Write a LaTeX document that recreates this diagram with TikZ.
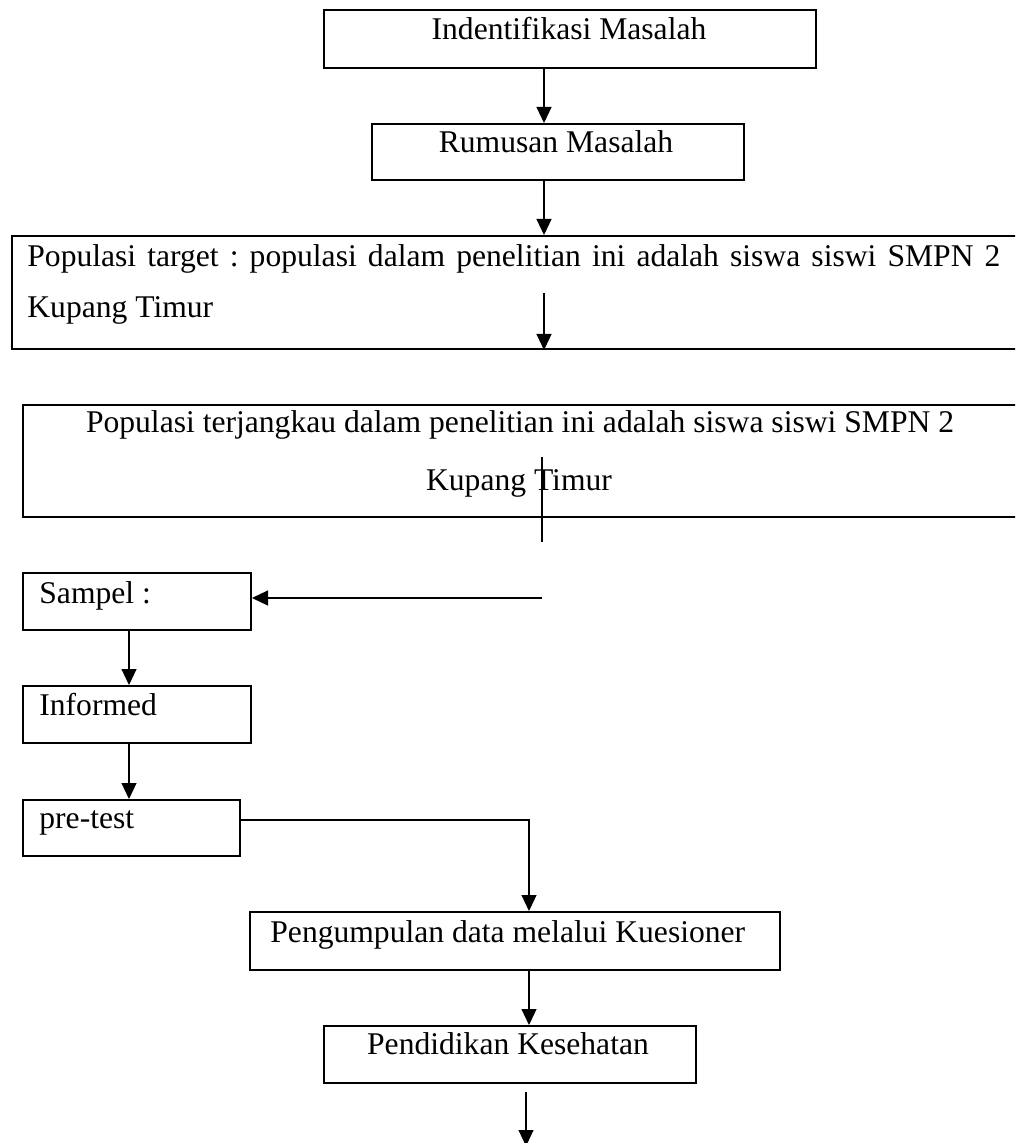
\documentclass[tikz,border=0pt]{standalone}
\usepackage{fontspec}
\setmainfont{Liberation Serif}
\usetikzlibrary{fit,arrows.meta}
\frenchspacing
\begin{document}
\begin{tikzpicture}[x=0.5pt,y=-0.5pt,
  box/.style={draw=black,line width=1pt,inner sep=0pt,rectangle},
  txt/.style={inner sep=0pt,font=\fontsize{15.8pt}{19pt}\selectfont},
  arr/.style={draw=black,line width=0.55pt,-{Triangle[length=8pt,width=7.5pt]}},
  ln/.style={draw=black,line width=0.55pt}]
\clip (0,0) rectangle (1015,1143);
\fill[white] (0,0) rectangle (1015,1143);
% boxes
\node[box,fit={(324,10) (816,68)}] (b1) {};
\node[box,fit={(372,124) (744,180)}] (b2) {};
\node[box,fit={(12,236) (1030,349)}] (b3) {};
\node[box,fit={(23,405) (1030,517)}] (b4) {};
\node[box,fit={(23,573) (251,630)}] (bs) {};
\node[box,fit={(23,686) (251,743)}] (bi) {};
\node[box,fit={(23,800) (240,856)}] (bp) {};
\node[box,fit={(250,912) (780,970)}] (bg) {};
\node[box,fit={(324,1026) (696,1083)}] (bk) {};
% texts
\node[txt,anchor=base] (t1) at (569,40) {Indentifikasi Masalah};
\node[txt,anchor=base] (t2) at (556,153) {Rumusan Masalah};
\node[txt,anchor=base west] (t3a) at (27,267) {\makebox[486.5pt][s]{Populasi target : populasi dalam penelitian ini adalah siswa siswi SMPN 2}};
\node[txt,anchor=base west] (t3b) at (27,318) {Kupang Timur};
\node[txt,anchor=base] (t4a) at (520,433) {Populasi terjangkau dalam penelitian ini adalah siswa siswi SMPN 2};
\node[txt,anchor=base] (t4b) at (519,490) {Kupang Timur};
\node[txt,anchor=base west] (ts) at (39,603) {Sampel :};
\node[txt,anchor=base west] (ti) at (39,715) {Informed};
\node[txt,anchor=base west] (tp) at (39,828) {pre-test};
\node[txt,anchor=base west] (tg) at (270,942) {Pengumpulan data melalui Kuesioner};
\node[txt,anchor=base] (tk) at (508,1054) {Pendidikan Kesehatan};
% helper coordinates
\coordinate (ca) at (544,0);
\coordinate (cb) at (529,0);
\coordinate (cs) at (129,0);
\coordinate (py) at (0,820);
\coordinate (s3) at (544,293);
\coordinate (s4) at (542,457);
\coordinate (e4) at (542,542);
\coordinate (h4) at (542,598);
\coordinate (sf) at (526,1092);
\coordinate (ef) at (526,1146);
% connectors
\draw[arr] (ca |- b1.south) -- (ca |- b2.north);
\draw[arr] (ca |- b2.south) -- (ca |- b3.north);
\draw[arr] (s3) -- (ca |- b3.south);
\draw[ln] (s4) -- (e4);
\draw[arr] (h4) -- (h4 -| bs.east);
\draw[arr] (cs |- bs.south) -- (cs |- bi.north);
\draw[arr] (cs |- bi.south) -- (cs |- bp.north);
\draw[arr] (bp.east |- py) -| (cb |- bg.north);
\draw[arr] (cb |- bg.south) -- (cb |- bk.north);
\draw[arr] (sf) -- (ef);
\end{tikzpicture}
\end{document}
